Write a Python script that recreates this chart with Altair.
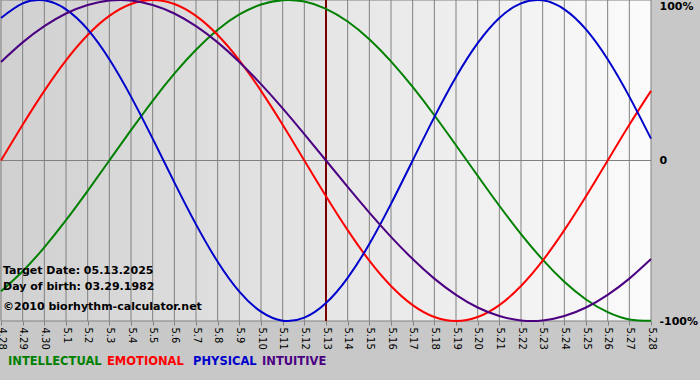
import altair as alt
import pandas as pd

# ---- data ----
days = ["4.28", "4.29", "4.30", "5.1", "5.2", "5.3", "5.4", "5.5", "5.6", "5.7",
        "5.8", "5.9", "5.10", "5.11", "5.12", "5.13", "5.14", "5.15", "5.16", "5.17",
        "5.18", "5.19", "5.20", "5.21", "5.22", "5.23", "5.24", "5.25", "5.26", "5.27", "5.28"]

intellectual = [-0.815, -0.690, -0.541, -0.372, -0.189, 0.0, 0.189, 0.372, 0.541, 0.690,
                0.815, 0.910, 0.972, 0.999, 0.990, 0.945, 0.866, 0.756, 0.618, 0.458,
                0.282, 0.095, -0.095, -0.282, -0.458, -0.618, -0.756, -0.866, -0.945, -0.990, -0.999]
emotional = [0.0, 0.223, 0.434, 0.624, 0.782, 0.901, 0.975, 1.0, 0.975, 0.901,
             0.782, 0.624, 0.434, 0.223, 0.0, -0.223, -0.434, -0.624, -0.782, -0.901,
             -0.975, -1.0, -0.975, -0.901, -0.782, -0.624, -0.434, -0.223, 0.0, 0.223, 0.434]
physical = [0.888, 0.979, 0.998, 0.942, 0.817, 0.631, 0.398, 0.136, -0.136, -0.398,
            -0.631, -0.817, -0.942, -0.998, -0.979, -0.888, -0.731, -0.520, -0.270, 0.0,
            0.270, 0.520, 0.731, 0.888, 0.979, 0.998, 0.942, 0.817, 0.631, 0.398, 0.136]
intuitive = [0.614, 0.736, 0.837, 0.916, 0.969, 0.997, 0.997, 0.969, 0.916, 0.837,
             0.736, 0.614, 0.476, 0.325, 0.165, 0.0, -0.165, -0.325, -0.476, -0.614,
             -0.736, -0.837, -0.916, -0.969, -0.997, -0.997, -0.969, -0.916, -0.837, -0.736, -0.614]

series_names = ["INTELLECTUAL", "EMOTIONAL", "PHYSICAL", "INTUITIVE"]
series_colors = ["#008000", "#ff0000", "#0000cc", "#4b0082"]
target_day = "5.13"
y_ticks = [-1, 0, 1]
target_text = "Target Date: 05.13.2025"
birth_text = "Day of birth: 03.29.1982"
copyright_text = "\u00a92010 biorhythm-calculator.net"

rows = []
for name, vals in zip(series_names, [intellectual, emotional, physical, intuitive]):
    for d, v in zip(days, vals):
        rows.append({"day": d, "value": v, "series": name})
df = pd.DataFrame(rows)

W, H = 650, 321
FONT = "DejaVu Sans"
xscale = alt.Scale(type="point", domain=days, padding=0)
yscale = alt.Scale(domain=[-1, 1], nice=False, zero=False)
one = pd.DataFrame({"a": [0]})

xaxis = alt.Axis(orient="bottom", title=None, domain=False, grid=False,
                 ticks=True, tickSize=4, tickColor="#808080",
                 labelAngle=90, labelAlign="left", labelBaseline="middle",
                 labelFont=FONT, labelFontSize=10, labelColor="black",
                 labelPadding=2, labelOverlap=False)
yaxis = alt.Axis(orient="right", title=None, values=y_ticks, domain=False,
                 grid=False, ticks=False, labelPadding=8,
                 labelExpr="datum.value == 1 ? '100%' : (datum.value == 0 ? '0' : '-100%')",
                 labelFont=FONT, labelFontSize=11, labelFontWeight="bold",
                 labelColor="black",
                 labelBaseline={"condition": {"test": "datum.value == 1", "value": "top"},
                                "value": "middle"})

bg = alt.Chart(one).mark_rect(
    color=alt.LinearGradient(
        gradient="linear",
        stops=[alt.GradientStop(color="#d0d0d0", offset=0),
               alt.GradientStop(color="#fbfbfb", offset=1)],
        x1=0, x2=1, y1=0, y2=0)
).encode(x=alt.value(0), x2=alt.value(W), y=alt.value(0), y2=alt.value(H))

vgrid = alt.Chart(pd.DataFrame({"day": days})).mark_rule(color="#808080", strokeWidth=1).encode(
    x=alt.X("day:N", scale=xscale, sort=days, axis=xaxis)
)

hgrid = alt.Chart(pd.DataFrame({"v": y_ticks})).mark_rule(color="#808080", strokeWidth=1).encode(
    y=alt.Y("v:Q", scale=yscale, axis=yaxis)
)

target = alt.Chart(pd.DataFrame({"day": [target_day]})).mark_rule(
    color="#7a0000", strokeWidth=2
).encode(x=alt.X("day:N", scale=xscale, sort=days, axis=xaxis))

lines = alt.Chart(df).mark_line(strokeWidth=2, interpolate="natural").encode(
    x=alt.X("day:N", scale=xscale, sort=days, axis=xaxis),
    y=alt.Y("value:Q", scale=yscale, axis=yaxis),
    color=alt.Color("series:N", scale=alt.Scale(domain=series_names, range=series_colors), legend=None),
)

def label(txt, x, y, color="black", size=11):
    return alt.Chart(one).mark_text(
        align="left", baseline="middle", font=FONT, fontSize=size,
        fontWeight="bold", color=color
    ).encode(x=alt.value(x), y=alt.value(y), text=alt.value(txt))

annots = [
    label(target_text, 2, 271),
    label(birth_text, 2, 287),
    label(copyright_text, 2, 307),
]
legend_x = [7, 106, 192, 261]
legend = [label(n, lx, 362, c, 11.5) for n, c, lx in zip(series_names, series_colors, legend_x)]

chart = alt.layer(bg, vgrid, hgrid, target, lines, *annots, *legend).properties(
    width=W, height=H,
    autosize=alt.AutoSizeParams(type="none"),
    padding={"left": 1, "top": 0, "right": 49, "bottom": 59},
    background="#c8c8c8",
).configure_view(stroke=None)

chart.save("out.html", embed_options={"renderer": "svg", "actions": False})
